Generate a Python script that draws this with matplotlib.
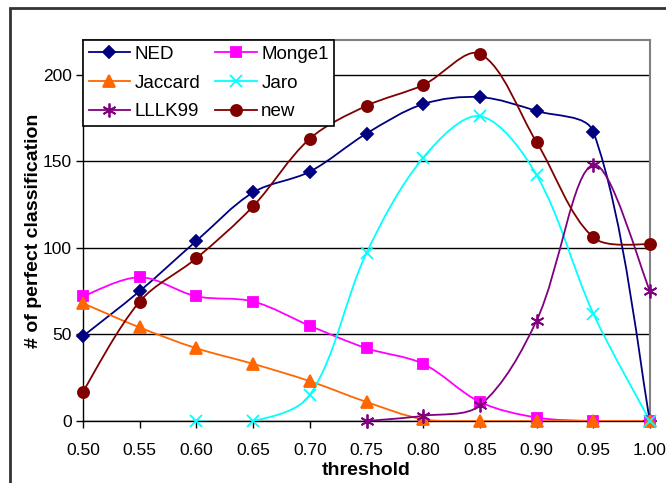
import numpy as np
import matplotlib
matplotlib.use('Agg')
import matplotlib.pyplot as plt
from matplotlib.path import Path
from matplotlib.patches import PathPatch, Rectangle
from matplotlib.lines import Line2D

plt.rcParams['font.family'] = ['Liberation Sans', 'DejaVu Sans']

thresholds = [0.50, 0.55, 0.60, 0.65, 0.70, 0.75, 0.80, 0.85, 0.90, 0.95, 1.00]
ned = [49, 75, 104, 132, 144, 166, 183, 187, 179, 167, 0]
monge1 = [72, 83, 72, 69, 55, 42, 33, 11, 2, 0, 0]
jaccard = [68, 54, 42, 33, 23, 11, 1, 0, 0, 0, 0]
jaro = [None, None, 0, 0, 15, 97, 152, 176, 142, 62, 0]
lllk99 = [None, None, None, None, None, 0, 3, 9, 58, 148, 75]
new = [17, 69, 94, 124, 163, 182, 194, 212, 161, 106, 102]

series = [
    ('NED', ned, '#000080', 'D', 6),
    ('Monge1', monge1, '#FF00FF', 's', 7),
    ('Jaccard', jaccard, '#FF6600', '^', 8),
    ('Jaro', jaro, '#00FFFF', 'x', 8),
    ('LLLK99', lllk99, '#800080', (6, 2, 0), 10),
    ('new', new, '#800000', 'o', 8),
]

XMIN, XMAX, YMIN, YMAX = 0.5, 1.0, 0, 220
AX_W, AX_H = 567, 381  # axes size in pixels, used for on-screen distances


def smooth_path(xs, ys):
    # Excel-like smoothed line: Bezier segments, handle length follows
    # the on-screen length of each segment so steep drops don't overshoot
    pts = np.column_stack([xs, ys]).astype(float)
    scale = np.array([AX_W / (XMAX - XMIN), AX_H / (YMAX - YMIN)])
    n = len(pts)

    def dist(a, b):
        return np.hypot(*((pts[a] - pts[b]) * scale))

    verts = [pts[0]]
    codes = [Path.MOVETO]
    for i in range(n - 1):
        i0 = max(i - 1, 0)
        i3 = min(i + 2, n - 1)
        d01, d12, d23 = dist(i0, i), dist(i, i + 1), dist(i + 1, i3)
        w1 = d12 / (d01 + d12) / 3 if d01 > 0 else 1 / 6
        w2 = d12 / (d12 + d23) / 3 if d23 > 0 else 1 / 6
        c1 = pts[i] + (pts[i + 1] - pts[i0]) * w1
        c2 = pts[i + 1] - (pts[i3] - pts[i]) * w2
        verts += [c1, c2, pts[i + 1]]
        codes += [Path.CURVE4] * 3
    return Path(verts, codes)


fig = plt.figure(figsize=(6.66, 4.83), dpi=100)
ax = fig.add_axes([83 / 666, 1 - 421 / 483, AX_W / 666, AX_H / 483])

handles = {}
for name, vals, color, marker, ms in series:
    xs = [x for x, v in zip(thresholds, vals) if v is not None]
    ys = [v for v in vals if v is not None]
    ax.add_patch(PathPatch(smooth_path(xs, ys), fill=False, edgecolor=color,
                           lw=1.3, transform=ax.transData, zorder=3))
    ax.plot(xs, ys, ls='none', marker=marker, ms=ms, color=color,
            mec=color, mew=1.3, zorder=4, clip_on=False)
    handles[name] = Line2D([], [], color=color, lw=1.3, marker=marker,
                           ms=ms, mec=color, mew=1.3)

ax.set_xlim(XMIN, XMAX)
ax.set_ylim(YMIN, YMAX)
ax.set_xticks(thresholds)
ax.set_xticklabels([f'{t:.2f}' for t in thresholds])
ax.set_yticks([0, 50, 100, 150, 200])
ax.yaxis.grid(True, color='black', lw=1)
ax.set_axisbelow(True)
ax.tick_params(labelsize=12.5, length=5, width=1, direction='out')
ax.tick_params(axis='x', pad=11)
ax.tick_params(axis='y', pad=3)

for side in ['top', 'right']:
    ax.spines[side].set_color('#808080')
    ax.spines[side].set_linewidth(1.5)
for side in ['left', 'bottom']:
    ax.spines[side].set_color('black')
    ax.spines[side].set_linewidth(1)

ax.set_xlabel('threshold', fontsize=14, fontweight='bold', labelpad=2.5)
ax.set_ylabel('# of perfect classification', fontsize=14, fontweight='bold',
              labelpad=0.5)

order = ['NED', 'Jaccard', 'LLLK99', 'Monge1', 'Jaro', 'new']
leg = ax.legend([handles[k] for k in order], order, loc='upper left',
                bbox_to_anchor=(0, 1), borderaxespad=0, ncol=2,
                fontsize=13.5, handlelength=2.2, handletextpad=0.25,
                columnspacing=0.8, labelspacing=0.62, fancybox=False,
                framealpha=1, edgecolor='black', borderpad=0.3)
leg.get_frame().set_linewidth(1.2)
leg.set_zorder(10)

fig.patches.append(Rectangle((10 / 666, -0.1), 1.2, 1.1 - 8 / 483,
                             transform=fig.transFigure, fill=False,
                             edgecolor='#333333', lw=2))

fig.savefig('out.png', dpi=100)
